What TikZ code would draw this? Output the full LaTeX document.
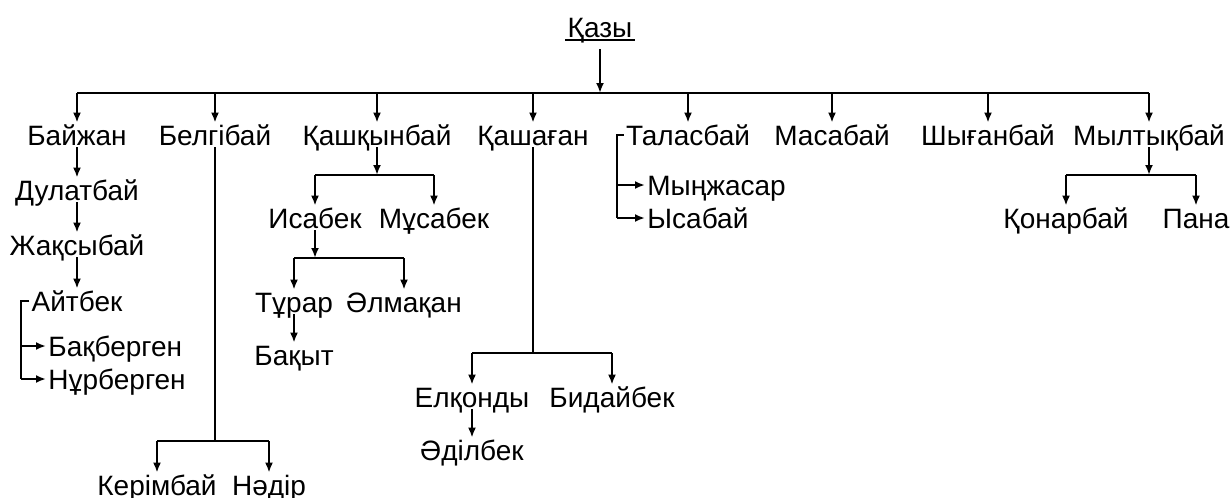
\documentclass[tikz,border=0pt]{standalone}
\usepackage{fontspec}
\setmainfont{Liberation Sans}
\usetikzlibrary{arrows.meta}

\tikzset{
  person/.style={inner sep=1pt, text height=10pt, text depth=0pt,
    font=\fontsize{14pt}{16pt}\selectfont},
  link/.style={line width=1pt},
  arr/.style={link, -{Latex[length=5pt,width=4pt]}}
}

\begin{document}
\begin{tikzpicture}[x=0.5pt, y=-0.5pt]
    \useasboundingbox (0,0) rectangle (1232,498);

    % root and main bus
    \node[person] (kazy) at (600,27) {Қазы};
    \draw[link] ([yshift=-0.5pt]kazy.south west) -- ([yshift=-0.5pt]kazy.south east); % underline
    \coordinate (busL) at (77,93);
    \coordinate (busR) at (1149,93);

    % first generation
    \node[person] (bayzhan) at (77,135) {Байжан};
    \node[person] (belgibay) at (215,135) {Белгібай};
    \node[person] (kashkynbay) at (377,135) {Қашқынбай};
    \node[person] (kashagan) at (533,135) {Қашаған};
    \node[person] (talasbay) at (688,135) {Таласбай};
    \node[person] (masabay) at (832,135) {Масабай};
    \node[person] (shyganbay) at (988,135) {Шығанбай};
    \node[person] (myltykbay) at (1149,135) {Мылтықбай};

    \draw[arr, shorten <=5pt] (kazy) -- (kazy |- busL);
    \draw[link] (busL) -- (busR);
    \foreach \n in {bayzhan,belgibay,kashkynbay,kashagan,talasbay,masabay,shyganbay,myltykbay}
        \draw[arr] (\n |- busL) -- (\n);

    % Bayzhan line
    \node[person] (dulatbay) at (77,190) {Дулатбай};
    \node[person] (zhaksybay) at (77,245) {Жақсыбай};
    \node[person] (aitbek) at (77,301) {Айтбек};
    \node[person, anchor=west] (bakbergen) at (46,346) {Бақберген};
    \node[person, anchor=west] (nurbergen) at (46,379) {Нұрберген};
    \coordinate (aitbr) at (21,379);

    \draw[arr] (bayzhan) -- (dulatbay);
    \draw[arr] (dulatbay) -- (zhaksybay);
    \draw[arr] (zhaksybay) -- (aitbek);
    \draw[link] (aitbek.west) -| (aitbr);
    \draw[arr] (aitbr |- bakbergen) -- (bakbergen);
    \draw[arr] (aitbr) -- (nurbergen);

    % Belgibay line
    \coordinate (bbus) at (215,441);
    \node[person] (kerimbay) at (157,485) {Керімбай};
    \node[person] (nadir) at (269,485) {Нәдір};

    \draw[link] (belgibay) -- (bbus);
    \draw[link] (kerimbay |- bbus) -- (nadir |- bbus);
    \draw[arr] (kerimbay |- bbus) -- (kerimbay);
    \draw[arr] (nadir |- bbus) -- (nadir);

    % Kashkynbay line
    \coordinate (kbus) at (377,175);
    \node[person] (isabek) at (315,218) {Исабек};
    \node[person] (musabek) at (434,218) {Мұсабек};
    \coordinate (ibus) at (315,258);
    \node[person] (turar) at (294,302) {Тұрар};
    \node[person] (almakan) at (404,302) {Әлмақан};
    \node[person] (bakyt) at (294,355) {Бақыт};

    \draw[arr] (kashkynbay) -- (kbus);
    \draw[link] (isabek |- kbus) -- (musabek |- kbus);
    \draw[arr] (isabek |- kbus) -- (isabek);
    \draw[arr] (musabek |- kbus) -- (musabek);
    \draw[arr] (isabek) -- (ibus);
    \draw[link] (turar |- ibus) -- (almakan |- ibus);
    \draw[arr] (turar |- ibus) -- (turar);
    \draw[arr] (almakan |- ibus) -- (almakan);
    \draw[arr] (turar) -- (bakyt);

    % Kashagan line
    \coordinate (kgbus) at (533,353);
    \node[person] (elkondy) at (472,397) {Елқонды};
    \node[person] (bidaybek) at (612,397) {Бидайбек};
    \node[person] (adilbek) at (472,450) {Әділбек};

    \draw[link] (kashagan) -- (kgbus);
    \draw[link] (elkondy |- kgbus) -- (bidaybek |- kgbus);
    \draw[arr] (elkondy |- kgbus) -- (elkondy);
    \draw[arr] (bidaybek |- kgbus) -- (bidaybek);
    \draw[arr] (elkondy) -- (adilbek);

    % Talasbay line
    \coordinate (talbr) at (617,218);
    \node[person, anchor=west] (mynzhasar) at (645,185) {Мыңжасар};
    \node[person, anchor=west] (ysabay) at (645,218) {Ысабай};

    \draw[link] (talasbay.west) -| (talbr);
    \draw[arr] (talbr |- mynzhasar) -- (mynzhasar);
    \draw[arr] (talbr) -- (ysabay);

    % Myltykbay line
    \coordinate (mbus) at (1149,175);
    \node[person] (konarbay) at (1066,218) {Қонарбай};
    \node[person] (pana) at (1196,218) {Пана};

    \draw[arr] (myltykbay) -- (mbus);
    \draw[link] (konarbay |- mbus) -- (pana |- mbus);
    \draw[arr] (konarbay |- mbus) -- (konarbay);
    \draw[arr] (pana |- mbus) -- (pana);

\end{tikzpicture}
\end{document}
